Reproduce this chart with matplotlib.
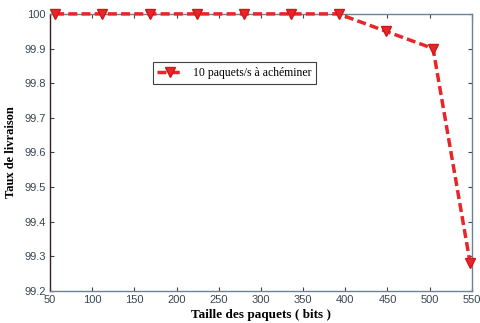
import matplotlib.pyplot as plt

# taille des paquets (bits) et taux de livraison (%)
taille = [56, 112, 168, 224, 280, 336, 392, 448, 504, 548]
taux = [100, 100, 100, 100, 100, 100, 100, 99.95, 99.9, 99.28]

x_ticks = [50, 100, 150, 200, 250, 300, 350, 400, 450, 500, 550]
y_ticks = [99.2, 99.3, 99.4, 99.5, 99.6, 99.7, 99.8, 99.9, 100]

fig = plt.figure(figsize=(4.81, 3.23), dpi=100)
ax = fig.add_axes([0.104, 0.099, 0.877, 0.858])

ax.plot(taille, taux, color='#e8262a', linestyle='--', linewidth=2.5,
        marker='v', markersize=7, markeredgecolor='#d01818', dashes=(2.6, 1.2),
        label='10 paquets/s à achéminer', clip_on=False, zorder=5)

ax.set_xlim(50, 550)
ax.set_ylim(99.2, 100)
ax.set_xticks(x_ticks)
ax.set_yticks(y_ticks)
ax.set_xticklabels([str(v) for v in x_ticks])
ax.set_yticklabels(['99.2', '99.3', '99.4', '99.5', '99.6', '99.7', '99.8', '99.9', '100'])

# ticks vers l'interieur sur les quatre cotes, style matlab
ax.tick_params(direction='in', top=True, right=True, length=3, width=0.8,
               labelsize=8, colors='#3a4650', pad=3)
for lab in ax.get_xticklabels() + ax.get_yticklabels():
    lab.set_family('Liberation Sans')

for side in ['top', 'bottom', 'right']:
    ax.spines[side].set_color('#6a8494')
ax.spines['left'].set_color('#3a2020')
for s in ax.spines.values():
    s.set_linewidth(1.0)

ax.set_xlabel('Taille des paquets ( bits )', family='Liberation Serif',
              fontweight='bold', fontsize=9.5, labelpad=3)
ax.set_ylabel('Taux de livraison', family='Liberation Serif',
              fontweight='bold', fontsize=9, labelpad=5)

leg = ax.legend(loc='center', bbox_to_anchor=(0.437, 0.787), fancybox=False,
                prop={'family': 'Liberation Serif', 'size': 8.5},
                handlelength=2.2, borderpad=0.4, framealpha=1)
leg.get_frame().set_edgecolor('#404040')
leg.get_frame().set_linewidth(0.8)

fig.savefig('out.png', dpi=100)
